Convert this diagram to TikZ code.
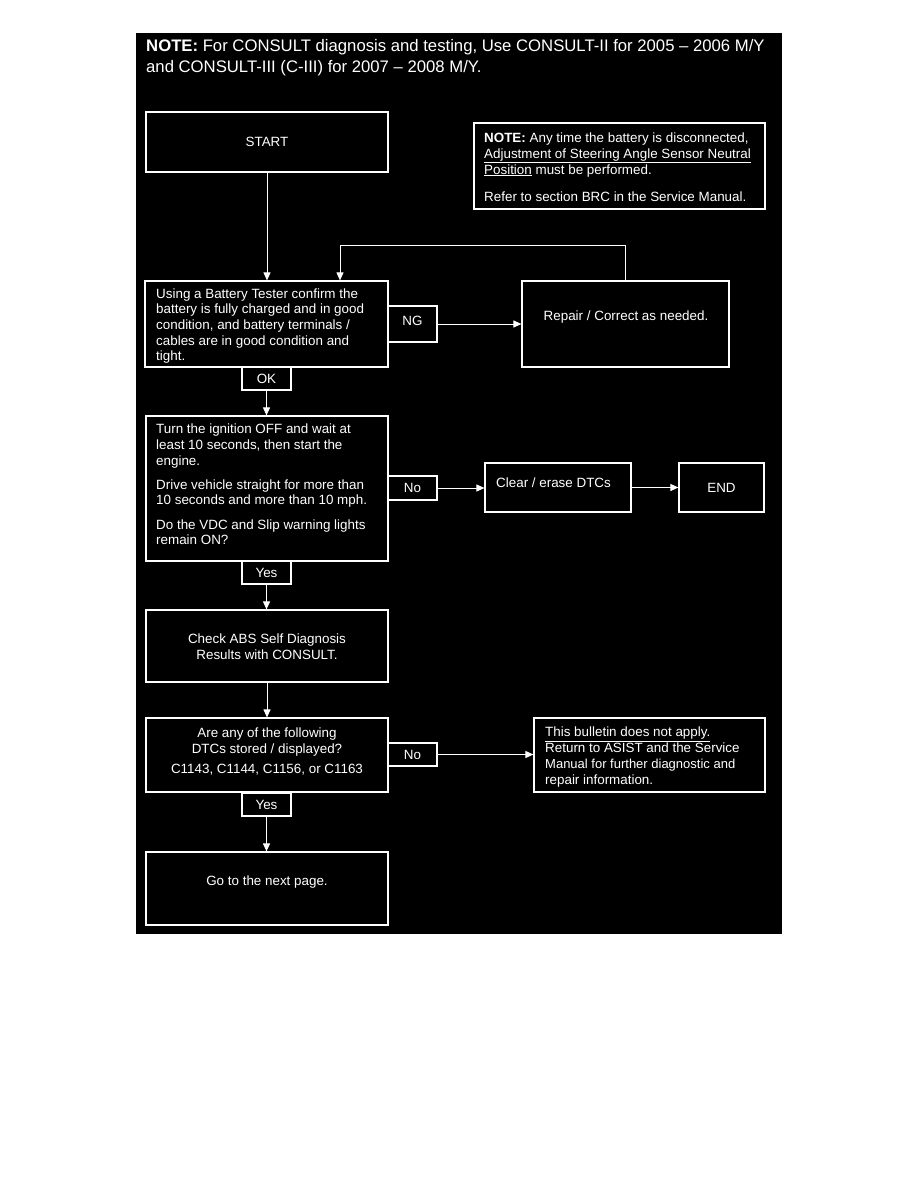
\documentclass[tikz,border=0pt]{standalone}
\usepackage{fontspec}
\setmainfont{Liberation Sans}
\usetikzlibrary{arrows.meta}
\begin{document}
\begin{tikzpicture}[x=1pt,y=-1pt,
  every node/.style={text=white,font=\fontsize{13.4}{15.7}\selectfont},
  fbox/.style 2 args={draw=white,line width=1.2pt,inner sep=0pt,minimum width=#1,minimum height=#2},
  txt/.style={inner sep=0pt},
  ltxt/.style={inner sep=0pt,anchor=west,align=flush left},
  arr/.style={draw=white,line width=1pt,-{Triangle[width=7pt,length=8pt]}}]
\fill[white] (0,0) rectangle (918,1188);
\fill[black] (136,33) rectangle (782,934);
\useasboundingbox (0,0) rectangle (918,1188);

\node[txt,anchor=north west,align=flush left,font=\fontsize{16.7}{21}\selectfont] (topnote) at (146,39)
  {\textbf{NOTE:} For CONSULT diagnosis and testing, Use CONSULT-II for 2005 – 2006 M/Y\\and CONSULT-III (C-III) for 2007 – 2008 M/Y.};

\node[fbox={242pt}{60pt}] (start) at (267,142) {START};

\node[fbox={291pt}{86pt}] (note) at (619.5,166) {};
\node[ltxt] (notetxt) at (484,167.5)
  {\textbf{NOTE:} Any time the battery is disconnected,\\\underline{Adjustment of Steering Angle Sensor Neutral}\\\underline{Position} must be performed.\\[12pt]Refer to section BRC in the Service Manual.};

\node[fbox={243pt}{86pt}] (battery) at (266.5,324) {};
\node[ltxt] (batterytxt) at (156,326)
  {Using a Battery Tester confirm the\\battery is fully charged and in good\\condition, and battery terminals /\\cables are in good condition and\\tight.};

\node[fbox={207pt}{86pt}] (repair) at (625.5,324) {};
\node[txt] (repairtxt) at (626,317) {Repair / Correct as needed.};

\node[fbox={49pt}{36pt},text depth=7pt] (ng) at (412.5,324) {NG};
\node[fbox={49pt}{23pt}] (ok) at (266.5,378.5) {OK};

\node[fbox={242pt}{145pt}] (ign) at (267,488.5) {};
\node[ltxt] (igntxt) at (156,484.5)
  {Turn the ignition OFF and wait at\\least 10 seconds, then start the\\engine.\\[8.5pt]Drive vehicle straight for more than\\10 seconds and more than 10 mph.\\[8.5pt]Do the VDC and Slip warning lights\\remain ON?};

\node[fbox={49pt}{24pt}] (no1) at (412.5,488) {No};
\node[fbox={146pt}{49pt}] (clear) at (558,487.5) {};
\node[ltxt] (cleartxt) at (496,483) {Clear / erase DTCs};
\node[fbox={85pt}{49pt}] (endb) at (721.5,487.5) {END};

\node[fbox={49pt}{23pt}] (yes1) at (266.5,572.5) {Yes};
\node[fbox={242pt}{72pt}] (check) at (267,646) {};
\node[txt,align=center] (checktxt) at (267,647) {Check ABS Self Diagnosis\\Results with CONSULT.};

\node[fbox={242pt}{74pt}] (are) at (267,755) {};
\node[txt,align=center] (aretxt) at (267,751.5)
  {Are any of the following\\DTCs stored / displayed?\\[4.3pt]C1143, C1144, C1156, or C1163};
\node[fbox={49pt}{23pt}] (no2) at (412.5,754.5) {No};
\node[fbox={231pt}{74pt}] (bull) at (649.5,755) {};
\node[ltxt] (bulltxt) at (545,757)
  {\underline{This bulletin does not apply.}\\Return to ASIST and the Service\\{\fontsize{13}{15}\selectfont Manual for further diagnostic and}\\repair information.};

\node[fbox={49pt}{23pt}] (yes2) at (266.5,804.5) {Yes};
\node[fbox={242pt}{73pt}] (go) at (267,888.5) {};
\node[txt] (gotxt) at (267,882) {Go to the next page.};

\coordinate (ret) at (340,245);
\draw[arr] (start.south) -- (start.south |- battery.north);
\draw[arr] (repair.north) |- (ret) -- (ret |- battery.north);
\draw[arr] (ng.east) -- (ng.east -| repair.west);
\draw[arr] (ok.south) -- (ok.south |- ign.north);
\draw[arr] (no1.east) -- (no1.east -| clear.west);
\draw[arr] (clear.east) -- (clear.east -| endb.west);
\draw[arr] (yes1.south) -- (yes1.south |- check.north);
\draw[arr] (check.south) -- (check.south |- are.north);
\draw[arr] (no2.east) -- (no2.east -| bull.west);
\draw[arr] (yes2.south) -- (yes2.south |- go.north);
\end{tikzpicture}
\end{document}
